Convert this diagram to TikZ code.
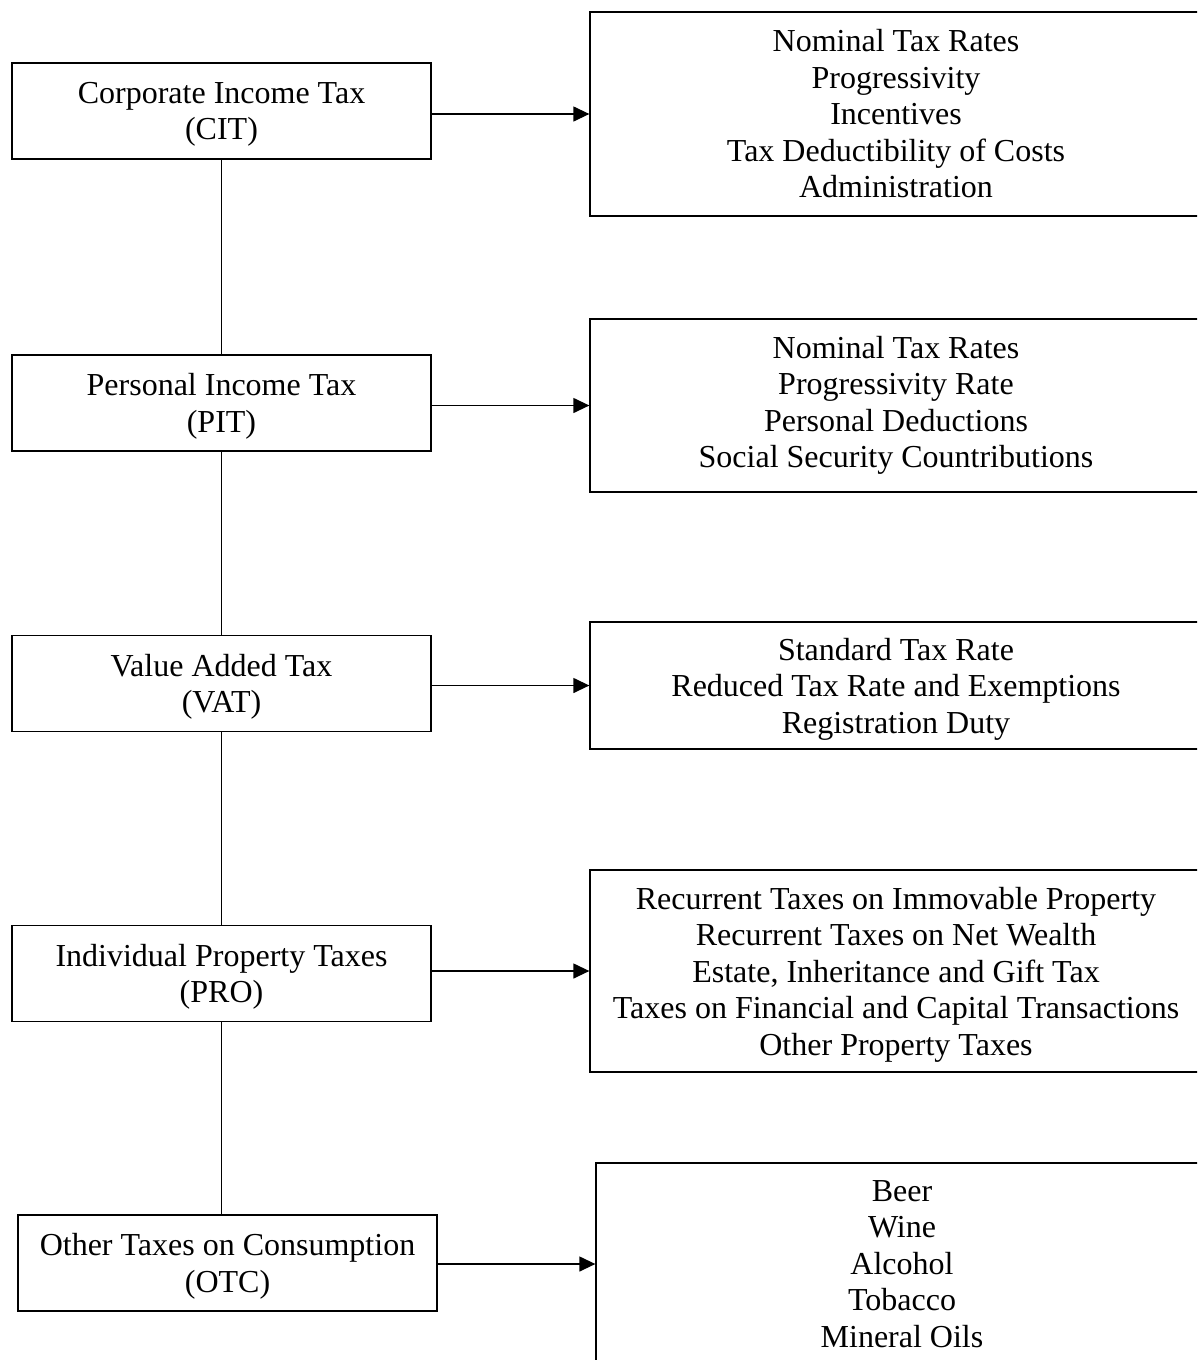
\documentclass[tikz,border=0pt]{standalone}
\usepackage{fontspec}
\setmainfont{Liberation Serif}
\usetikzlibrary{arrows.meta}

\begin{document}
\begin{tikzpicture}[x=1pt,y=-1pt,
    taxbox/.style={draw,line width=1.3pt,minimum width=419pt,minimum height=96pt,align=center,inner sep=0pt,text depth=0pt},
    itembox/.style={draw,line width=1.3pt,minimum width=612pt,align=center,inner sep=0pt},
    link/.style={line width=1.3pt},
    arrow/.style={line width=1.3pt,-{Triangle[length=16pt,width=15pt]}}]
            \clip (0,0) rectangle (1197,1360);
            \useasboundingbox (0,0) rectangle (1197,1360);
            \begin{scope}[font=\fontsize{32}{36.5}\selectfont]
            % Taxes on the left:
            \node [taxbox] (cit) at (221.5,111)  {Corporate Income Tax\\(CIT)};
            \node [taxbox] (pit) at (221.5,403)  {Personal Income Tax\\(PIT)};
            \node [taxbox] (vat) at (221.5,683.5) {Value Added Tax\\(VAT)};
            \node [taxbox] (pro) at (221.5,973.5) {Individual Property Taxes\\(PRO)};
            \node [taxbox] (otc) at (227.5,1263) {Other Taxes on Consumption\\(OTC)};

            % Their components on the right:
            \node [itembox,minimum height=204pt] (citx) at (896,114)
                {Nominal Tax Rates\\Progressivity\\Incentives\\Tax Deductibility of Costs\\Administration};
            \node [itembox,minimum height=173pt] (pitx) at (896,405.5)
                {Nominal Tax Rates\\Progressivity Rate\\Personal Deductions\\Social Security Countributions};
            \node [itembox,minimum height=127pt,text depth=0pt] (vatx) at (896,685.5)
                {Standard Tax Rate\\Reduced Tax Rate and Exemptions\\Registration Duty};
            \node [itembox,minimum height=202pt,text depth=0pt] (prox) at (896,971)
                {Recurrent Taxes on Immovable Property\\Recurrent Taxes on Net Wealth\\Estate, Inheritance and Gift Tax\\Taxes on Financial and Capital Transactions\\Other Property Taxes};
            \node [itembox,minimum height=202pt] (otcx) at (902,1264)
                {Beer\\Wine\\Alcohol\\Tobacco\\Mineral Oils};
            \end{scope}

            % Vertical chain:
            \draw [link] (cit) -- (pit) -- (vat) -- (pro);
            \draw [link] (pro.south) -- (pro.south |- otc.north);

            % Arrows:
            \foreach \t in {cit,pit,vat,pro,otc}{
                \draw [arrow] (\t.east |- \t x.west) -- (\t x.west);
            }
        \end{tikzpicture}
\end{document}
